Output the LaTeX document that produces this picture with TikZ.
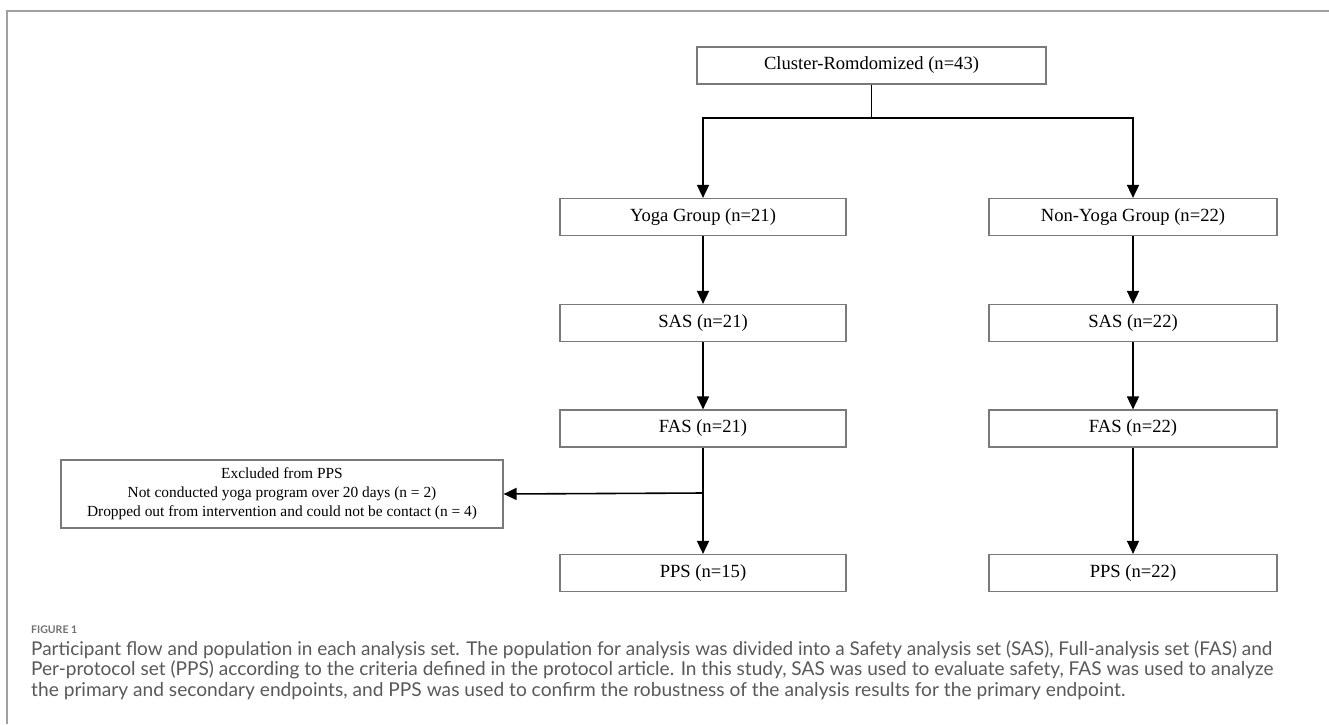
\documentclass[tikz,border=0pt]{standalone}
\usepackage{fontspec}
\usepackage{graphicx}
\setmainfont{Liberation Serif}
\newfontfamily\capfont{Lato}
\usetikzlibrary{arrows.meta}
\definecolor{boxgray}{HTML}{7A7A7A}
\definecolor{framegray}{HTML}{A0A0A0}
\definecolor{capgray}{HTML}{595959}
\definecolor{labgray}{HTML}{707070}
\newlength\measw
\settowidth\measw{\normalfont\fontsize{18}{20}\selectfont Cluster-Romdomized (n=43)}
\pgfmathsetmacro\boxsize{(215/\measw)*18}
\settowidth\measw{\normalfont\fontsize{15}{18}\selectfont Dropped out from intervention and could not be contact (n = 4)}
\pgfmathsetmacro\exsize{(390/\measw)*15}
\newcommand\capfit[2]{\resizebox{#1}{!}{\capfont\fontsize{15}{18}\selectfont #2}}
\tikzset{
  flowbox/.style={draw=boxgray, line width=1.2pt, minimum height=37pt, inner sep=0pt,
    font=\fontsize{\boxsize}{\boxsize}\selectfont, text=black},
  arr/.style={line width=1.6pt, -{Triangle[length=13pt,width=12pt]}},
  plain/.style={line width=1.2pt},
  capline/.style={anchor=base west, inner sep=0pt, text=capgray},
}
\begin{document}
\begin{tikzpicture}[x=1pt,y=-1pt]
\useasboundingbox (0,0) rectangle (1329,724);
% frame
\draw[framegray, line width=1.5pt] (1329,11) -- (7,11) -- (7,724);
% boxes
\node[flowbox, minimum width=349pt] (top) at (871.5,65.5) {Cluster-Romdomized (n=43)};
\node[flowbox, minimum width=286pt] (yoga) at (703,217) {Yoga Group (n=21)};
\node[flowbox, minimum width=288pt] (nyoga) at (1133,217) {Non-Yoga Group (n=22)};
\node[flowbox, minimum width=286pt] (sas1) at (703,323) {SAS (n=21)};
\node[flowbox, minimum width=288pt] (sas2) at (1133,323) {SAS (n=22)};
\node[flowbox, minimum width=286pt] (fas1) at (703,428.5) {FAS (n=21)};
\node[flowbox, minimum width=288pt] (fas2) at (1133,428.5) {FAS (n=22)};
\node[flowbox, minimum width=286pt] (pps1) at (703,573) {PPS (n=15)};
\node[flowbox, minimum width=288pt] (pps2) at (1133,573) {PPS (n=22)};
\node[draw=boxgray, line width=1.2pt, minimum width=442pt, minimum height=68pt, inner sep=0pt,
  align=center, font=\fontsize{\exsize}{19}\selectfont] (excl) at (282,494)
  {Excluded from PPS\\Not conducted yoga program over 20 days (n = 2)\\Dropped out from intervention and could not be contact (n = 4)};
% connectors
\coordinate (split) at (871.5,118);
\coordinate (branch) at (703,493);
\draw[plain] (top.south) -- (split);
\draw[arr] (split) -| (yoga.north);
\draw[arr] (split) -| (nyoga.north);
\draw[arr] (yoga) -- (sas1);
\draw[arr] (nyoga) -- (sas2);
\draw[arr] (sas1) -- (fas1);
\draw[arr] (sas2) -- (fas2);
\draw[arr] (fas1) -- (pps1);
\draw[arr] (fas2) -- (pps2);
\draw[arr] (branch) -- (excl.east);
% caption
\node[anchor=base west, inner sep=0pt, text=labgray] (figlabel) at (31,633) {\resizebox{46pt}{!}{\capfont\bfseries\fontsize{13}{15}\selectfont FIGURE 1}};
\node[capline] (cap1) at (31,655) {\capfit{1241pt}{Participant flow and population in each analysis set. The population for analysis was divided into a Safety analysis set (SAS), Full-analysis set (FAS) and}};
\node[capline] (cap2) at (31,675.5) {\capfit{1242pt}{Per-protocol set (PPS) according to the criteria defined in the protocol article. In this study, SAS was used to evaluate safety, FAS was used to analyze}};
\node[capline] (cap3) at (31,696) {\capfit{1094pt}{the primary and secondary endpoints, and PPS was used to confirm the robustness of the analysis results for the primary endpoint.}};
\end{tikzpicture}
\end{document}
